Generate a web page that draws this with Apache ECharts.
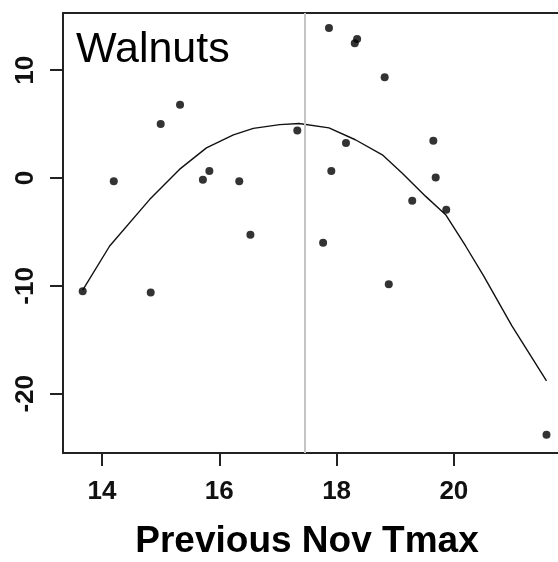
<!DOCTYPE html>
<html>
<head>
<meta charset="utf-8">
<script src="https://cdn.jsdelivr.net/npm/echarts@6/dist/echarts.min.js"></script>
<style>
  html, body { margin: 0; padding: 0; background: #fff; }
  #chart { width: 558px; height: 562px; }
</style>
</head>
<body>
<div id="chart"></div>
<script>
// observed points (Previous Nov Tmax vs response)
var tmax = [13.67, 14.2, 14.83, 15.0, 15.33, 15.72, 15.83, 16.34, 16.53, 17.33, 17.77, 17.87,
            17.91, 18.16, 18.31, 18.35, 18.82, 18.89, 19.29, 19.65, 19.69, 19.87, 21.58];
var walnut = [-10.5, -0.3, -10.6, 5.0, 6.8, -0.15, 0.65, -0.3, -5.25, 4.4, -6.0, 13.9,
              0.65, 3.25, 12.5, 12.9, 9.35, -9.85, -2.1, 3.45, 0.05, -2.95, -23.8];
// smooth fit
var fitX = [13.67, 14.13, 14.81, 15.32, 15.78, 16.24, 16.58, 17.03, 17.36, 17.87, 18.32,
            18.78, 19.12, 19.52, 19.86, 20.2, 20.51, 20.99, 21.58];
var fitY = [-10.4, -6.3, -2.0, 0.8, 2.8, 4.0, 4.6, 4.95, 5.05, 4.65, 3.55,
            2.15, 0.45, -1.7, -3.4, -6.3, -9.1, -13.7, -18.8];
var optimum = 17.45;
var xTicks = [14, 16, 18, 20];
var yTicks = [-20, -10, 0, 10];

var chart = echarts.init(document.getElementById('chart'));

var pts = tmax.map(function (v, i) { return [v, walnut[i]]; });
var fit = fitX.map(function (v, i) { return [v, fitY[i]]; });

var tickFont = {
  color: '#111',
  fontFamily: 'Liberation Sans, Arial',
  fontWeight: 'bold',
  fontSize: 26
};

var option = {
  animation: false,
  backgroundColor: '#fff',
  title: [
    {
      text: 'Walnuts',
      left: 71,
      top: 24,
      textStyle: { fontFamily: 'Liberation Sans, Arial', fontWeight: 'normal', fontSize: 43, color: '#000' }
    },
    {
      text: 'Previous Nov Tmax',
      left: 302,
      textAlign: 'center',
      top: 518,
      textStyle: { fontFamily: 'Liberation Sans, Arial', fontWeight: 'bold', fontSize: 37, color: '#000' }
    }
  ],
  grid: { left: 63, top: 13, right: 0, bottom: 109, containLabel: false },
  xAxis: [
    {
      type: 'value',
      min: 13.334,
      max: 21.776,
      axisLine: { show: true, onZero: false, lineStyle: { color: '#222', width: 2 } },
      axisTick: { show: true, length: 13, lineStyle: { color: '#222', width: 2 }, customValues: xTicks },
      axisLabel: Object.assign({ margin: 26, customValues: xTicks }, tickFont),
      splitLine: { show: false }
    },
    {
      type: 'value',
      position: 'top',
      min: 13.334,
      max: 21.776,
      axisLine: { show: true, onZero: false, lineStyle: { color: '#222', width: 2 } },
      axisTick: { show: false },
      axisLabel: { show: false },
      splitLine: { show: false }
    }
  ],
  yAxis: {
    type: 'value',
    min: -25.49,
    max: 15.3,
    axisLine: { show: true, onZero: false, lineStyle: { color: '#222', width: 2 } },
    axisTick: { show: true, length: 13, lineStyle: { color: '#222', width: 2 }, customValues: yTicks },
    axisLabel: Object.assign({ margin: 24, rotate: 90, customValues: yTicks }, tickFont),
    splitLine: { show: false }
  },
  series: [
    {
      type: 'line',
      data: fit,
      symbol: 'none',
      lineStyle: { color: '#111', width: 1.4 },
      z: 3
    },
    {
      type: 'scatter',
      data: pts,
      symbol: 'circle',
      symbolSize: 8,
      itemStyle: { color: '#000' },
      z: 4,
      markLine: {
        silent: true,
        symbol: 'none',
        label: { show: false },
        lineStyle: { color: '#c4c4c4', width: 2, type: 'solid' },
        data: [{ xAxis: optimum }]
      }
    }
  ]
};

chart.setOption(option);
</script>
</body>
</html>
